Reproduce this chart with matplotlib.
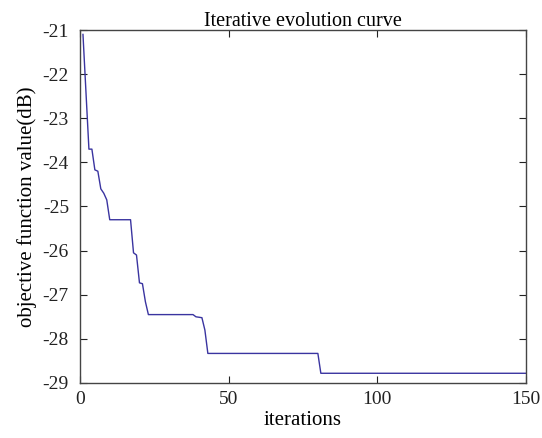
import numpy as np
import matplotlib
matplotlib.use('Agg')
import matplotlib.pyplot as plt

# breakpoints of the convergence curve
iters = [1, 3, 4, 5, 6, 7, 8, 9, 10, 17, 18, 19, 20, 21, 22, 23, 38, 39, 41, 42, 43, 80, 81, 150]
values = [-21.1, -23.7, -23.7, -24.17, -24.2, -24.6, -24.7, -24.85, -25.3, -25.3,
          -26.05, -26.1, -26.73, -26.75, -27.16, -27.45, -27.45, -27.5, -27.52,
          -27.8, -28.33, -28.33, -28.78, -28.78]

xticks = [0, 50, 100, 150]
yticks = [-21, -22, -23, -24, -25, -26, -27, -28, -29]

plt.rcParams['font.family'] = ['Liberation Serif', 'DejaVu Serif']

fig = plt.figure(figsize=(5.42, 4.38), dpi=100)
ax = fig.add_axes([0.1476, 0.1256, 0.9705 - 0.1476, 0.9315 - 0.1256])

ax.plot(iters, values, color='#3a34a0', linewidth=1.0)

ax.set_xlim(0, 150)
ax.set_ylim(-29, -21)
ax.set_xticks(xticks)
ax.set_yticks(yticks)
ax.set_yticklabels([str(t) for t in yticks])

ax.tick_params(direction='in', top=True, right=True, length=5, width=0.8,
               colors='#222222', labelsize=14)
ax.tick_params(axis='y', pad=8)
ax.tick_params(axis='x', pad=6)
for s in ax.spines.values():
    s.set_color('#444444')
    s.set_linewidth(1.0)

ax.set_title('Iterative evolution curve', fontsize=14.5, pad=3)
ax.set_xlabel('iterations', fontsize=15, labelpad=2)
ax.set_ylabel('objective function value(dB)', fontsize=15, labelpad=4)

fig.savefig('out.png', dpi=100)
